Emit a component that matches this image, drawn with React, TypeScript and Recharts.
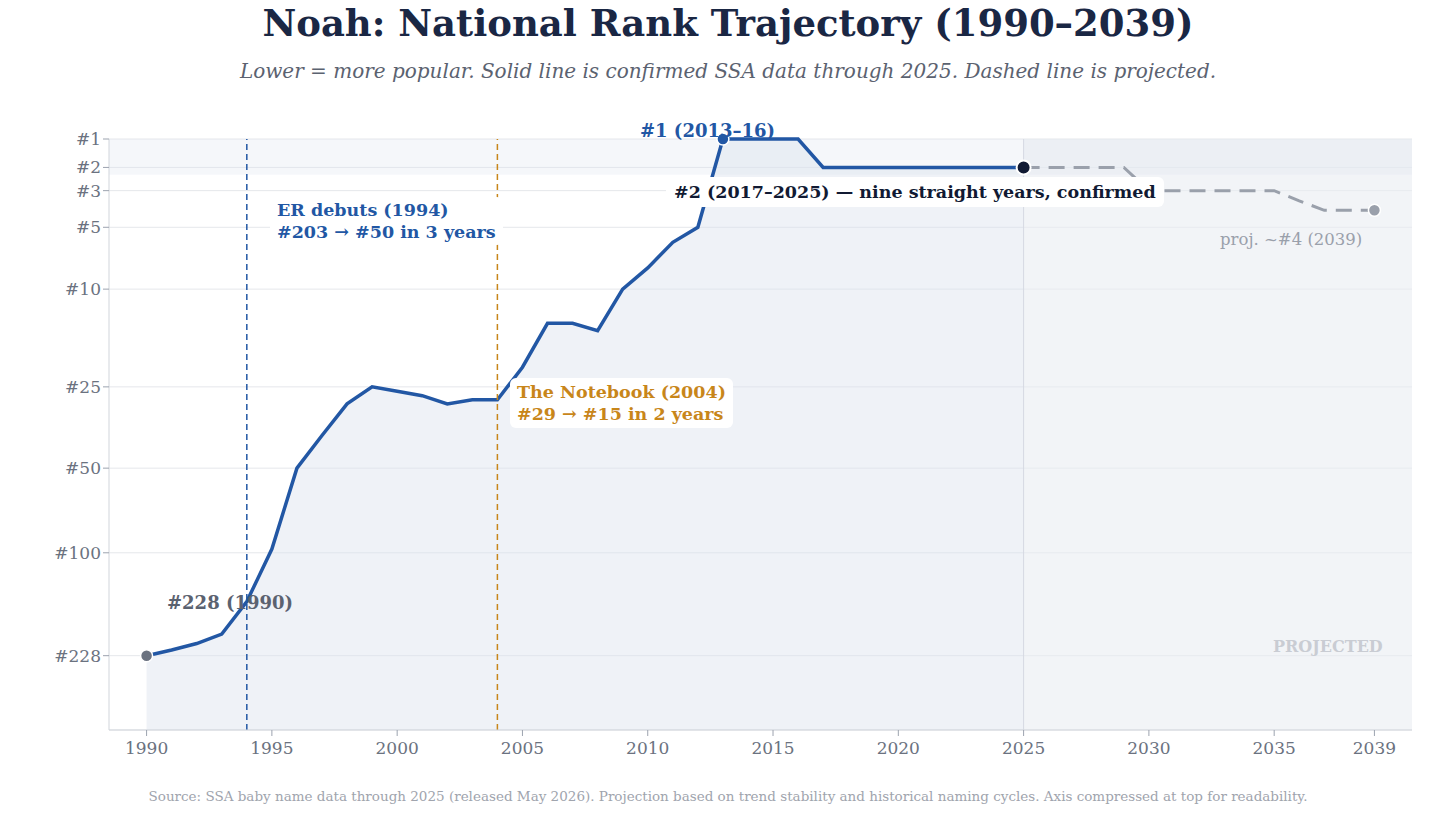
import React from 'react'
import { ComposedChart, Area, Line, XAxis, YAxis, CartesianGrid, ReferenceArea, ReferenceLine } from 'recharts'

const confirmedYears = [1990, 1991, 1992, 1993, 1994, 1995, 1996, 1997, 1998, 1999, 2000, 2001, 2002, 2003, 2004, 2005, 2006, 2007, 2008, 2009, 2010, 2011, 2012, 2013, 2014, 2015, 2016, 2017, 2018, 2019, 2020, 2021, 2022, 2023, 2024, 2025]
const confirmedRanks = [228, 218, 207, 192, 148, 97, 50, 38, 29, 25, 26, 27, 29, 28, 28, 21, 14, 14, 15, 10, 8, 6, 5, 1, 1, 1, 1, 2, 2, 2, 2, 2, 2, 2, 2, 2]
const projYears = [2025, 2026, 2027, 2028, 2029, 2030, 2031, 2032, 2033, 2034, 2035, 2036, 2037, 2038, 2039]
const projRanks = [2, 2, 2, 2, 2, 3, 3, 3, 3, 3, 3, 3.5, 4, 4, 4]
const rankTicks = [1, 2, 3, 5, 10, 25, 50, 100, 228]
const yearTicks = [1990, 1995, 2000, 2005, 2010, 2015, 2020, 2025, 2030, 2035, 2039]

// axis compressed at top: log(rank + 3)
const f = (r: number) => Math.log10(r + 3)
const Y_MIN = f(1)
const Y_MAX = 2.617

const allYears = Array.from(new Set([...confirmedYears, ...projYears]))
const data = allYears.map((y) => {
  const ci = confirmedYears.indexOf(y)
  const pi = projYears.indexOf(y)
  return {
    year: y,
    rank: ci >= 0 ? f(confirmedRanks[ci]) : null,
    proj: pi >= 0 ? f(projRanks[pi]) : null,
  }
})

const serif = '"DejaVu Serif", serif'
const BLUE = '#2257a4'
const ORANGE = '#c8861a'

function ConfirmedDot(props: any) {
  const { cx, cy, payload } = props
  if (payload.year === 1990) return <circle key="d90" cx={cx} cy={cy} r={6} fill="#6b7280" stroke="#fff" strokeWidth={1.5} />
  if (payload.year === 2013) return <circle key="d13" cx={cx} cy={cy} r={6} fill={BLUE} stroke="#fff" strokeWidth={1.5} />
  if (payload.year === 2025) return <circle key="d25" cx={cx} cy={cy} r={7} fill="#111a33" stroke="#fff" strokeWidth={2} />
  return <g key={'n' + payload.year} />
}
function ProjDot(props: any) {
  const { cx, cy, payload } = props
  if (payload.year === 2039) return <circle key="p39" cx={cx} cy={cy} r={6} fill="#9aa0ab" stroke="#fff" strokeWidth={1.5} />
  return <g key={'m' + payload.year} />
}

const lbl = (x: number, y: number, extra: React.CSSProperties): React.CSSProperties => ({
  position: 'absolute', left: x, top: y, fontFamily: serif, fontWeight: 700, whiteSpace: 'pre', lineHeight: '22px', ...extra,
})

export default function App() {
  return (
    <div style={{ position: 'absolute', left: 0, top: 0, width: 1456, height: 819, background: '#fff', fontFamily: serif }}>
      <div style={{ position: 'absolute', top: 1, width: 1456, textAlign: 'center', fontSize: 37, fontWeight: 700, color: '#1a2744' }}>
        Noah: National Rank Trajectory (1990–2039)
      </div>
      <div style={{ position: 'absolute', top: 59, width: 1456, textAlign: 'center', fontSize: 20, fontStyle: 'italic', color: '#5b6270' }}>
        Lower = more popular. Solid line is confirmed SSA data through 2025. Dashed line is projected.
      </div>
      <ComposedChart width={1456} height={819} data={data} margin={{ top: 139, right: 44, bottom: 59, left: 49 }}>
        <ReferenceArea x1={2025} x2={2040.5} y1={Y_MIN} y2={Y_MAX} fill="#e9ecf1" fillOpacity={0.6} stroke="none" />
        <ReferenceArea x1={1988.5} x2={2040.5} y1={Y_MIN} y2={f(2.3)} fill="#dfe5f0" fillOpacity={0.3} stroke="none" />
        <CartesianGrid vertical={false} stroke="#e5e7eb" />
        <XAxis dataKey="year" type="number" domain={[1988.5, 2040.5]} ticks={yearTicks} tick={{ fill: '#6b7280', fontSize: 17, fontFamily: serif }} stroke="#d1d5db" tickLine={{ stroke: '#9ca3af' }} tickMargin={6} />
        <YAxis type="number" reversed domain={[Y_MIN, Y_MAX]} ticks={rankTicks.map(f)} tickFormatter={(v: number) => '#' + Math.round(10 ** v - 3)} width={60} tick={{ fill: '#6b7280', fontSize: 17, fontFamily: serif }} stroke="#d1d5db" tickLine={{ stroke: '#9ca3af' }} interval={0} />
        <ReferenceLine x={2025} stroke="#d5d9e2" strokeWidth={1} />
        <ReferenceLine x={1994} stroke={BLUE} strokeDasharray="6 4" strokeWidth={1.5} />
        <ReferenceLine x={2004} stroke={ORANGE} strokeDasharray="6 4" strokeWidth={1.5} />
        <Area dataKey="rank" baseValue={Y_MAX} type="linear" stroke={BLUE} strokeWidth={3.5} fill="#dbe2ee" fillOpacity={0.45} dot={ConfirmedDot} activeDot={false} connectNulls={false} isAnimationActive={false} />
        <Line dataKey="proj" type="linear" stroke="#9aa0ab" strokeWidth={3} strokeDasharray="16 9" dot={ProjDot} activeDot={false} isAnimationActive={false} />
      </ComposedChart>
      <div style={lbl(640, 120, { fontSize: 18, color: BLUE })}>#1 (2013–16)</div>
      <div style={lbl(666, 177, { fontSize: 17.5, color: '#111a33', background: '#fff', borderRadius: 6, padding: '4px 8px' })}>#2 (2017–2025) — nine straight years, confirmed</div>
      <div style={lbl(270, 197, { fontSize: 17.5, color: BLUE, background: '#fff', borderRadius: 6, padding: '2px 7px' })}>{'ER debuts (1994)\n#203 → #50 in 3 years'}</div>
      <div style={lbl(510, 378, { fontSize: 17.5, color: ORANGE, background: '#fff', borderRadius: 6, padding: '3px 7px' })}>{'The Notebook (2004)\n#29 → #15 in 2 years'}</div>
      <div style={lbl(167, 592, { fontSize: 18, color: '#5b6270' })}>#228 (1990)</div>
      <div style={lbl(1220, 229, { fontSize: 16.5, color: '#9aa0ab', fontWeight: 400 })}>proj. ~#4 (2039)</div>
      <div style={lbl(1273, 636, { fontSize: 16, color: '#c9ccd3' })}>PROJECTED</div>
      <div style={{ position: 'absolute', top: 788, width: 1456, textAlign: 'center', fontSize: 13.5, color: '#a0a4ad' }}>
        Source: SSA baby name data through 2025 (released May 2026). Projection based on trend stability and historical naming cycles. Axis compressed at top for readability.
      </div>
    </div>
  )
}
